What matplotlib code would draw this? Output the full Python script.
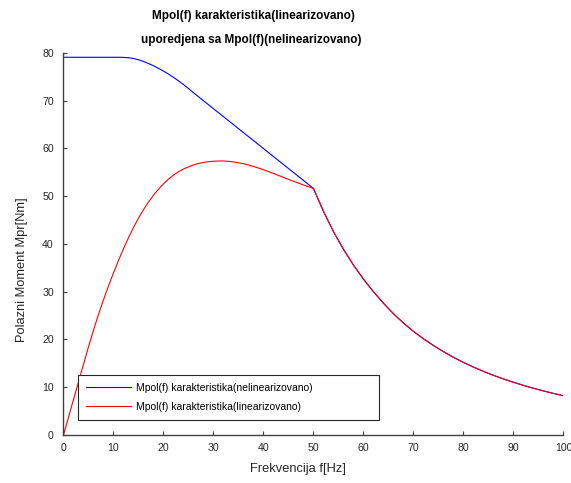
import numpy as np
import matplotlib
matplotlib.use("Agg")
import matplotlib.pyplot as plt

plt.rcParams['font.family'] = ['Liberation Sans', 'DejaVu Sans']

# frekvencija 0..50 Hz, korak 1 Hz
f_low = list(range(0, 51))

# Mpol(f), nelinearizovano (0..50 Hz)
m_nelin = [79.1, 79.1, 79.1, 79.1, 79.1, 79.1, 79.1, 79.1, 79.1, 79.1, 79.1,
           79.1, 79.08, 79.0, 78.85, 78.58, 78.22, 77.8, 77.32, 76.79, 76.21,
           75.58, 74.9, 74.17, 73.39, 72.55, 71.69, 70.84, 70.0, 69.17,
           68.33, 67.5, 66.66, 65.83, 65.0, 64.16, 63.33, 62.49, 61.66, 60.82,
           59.99, 59.15, 58.32, 57.48, 56.65, 55.81, 54.98, 54.14, 53.31,
           52.47, 51.63]

# Mpol(f), linearizovano (0..50 Hz)
m_lin = [0, 3.7, 7.4, 11.1, 14.8, 18.45, 21.95, 25.25, 28.3, 31.2, 33.95,
         36.55, 39.0, 41.3, 43.45, 45.4, 47.18, 48.78, 50.21, 51.48, 52.6,
         53.58, 54.42, 55.12, 55.7, 56.16, 56.56, 56.86, 57.08, 57.23, 57.33,
         57.38, 57.38, 57.31, 57.19, 57.02, 56.8, 56.54, 56.24, 55.91, 55.55,
         55.17, 54.77, 54.36, 53.95, 53.54, 53.14, 52.75, 52.37, 52.0, 51.63]

# zajednicki deo iznad 50 Hz
f_high = list(range(50, 101, 2))
m_high = [51.63, 46.85, 42.6, 38.9, 35.6, 32.65, 30.0, 27.6, 25.4, 23.45,
          21.7, 20.15, 18.75, 17.45, 16.27, 15.2, 14.22, 13.32, 12.5, 11.74,
          11.04, 10.39, 9.79, 9.23, 8.71, 8.22]

x1 = np.array(f_low + f_high[1:])
y1 = np.array(m_nelin + m_high[1:])
x2 = np.array(f_low + f_high[1:])
y2 = np.array(m_lin + m_high[1:])

fig = plt.figure(figsize=(5.71, 4.83), dpi=100)
ax = fig.add_axes([0.1112, 0.0994, 0.8755, 0.7909])

ax.plot(x1, y1, color='#0000ff', lw=0.8, label='Mpol(f) karakteristika(nelinearizovano)')
ax.plot(x2, y2, color='#ff0000', lw=0.8, label='Mpol(f) karakteristika(linearizovano)')

ax.set_xlim(0, 100)
ax.set_ylim(0, 80)
ax.set_xticks(np.arange(0, 101, 10))
ax.set_yticks(np.arange(0, 81, 10))

for s in ['top', 'right']:
    ax.spines[s].set_visible(False)
for s in ['left', 'bottom']:
    ax.spines[s].set_color('#404040')
    ax.spines[s].set_linewidth(1.0)

ax.tick_params(direction='in', length=3, width=0.8, color='#404040',
               labelsize=7.6, labelcolor='#262626')
ax.tick_params(axis='y', pad=7)
ax.tick_params(axis='x', pad=6)

ax.set_xlabel('Frekvencija f[Hz]', fontsize=9.3, color='#262626')
ax.set_ylabel('Polazni Moment Mpr[Nm]', fontsize=9.3, color='#262626')
ax.xaxis.set_label_coords(0.469, -0.074)
ax.yaxis.set_label_coords(-0.071, 0.432)

fig.text(253 / 571, 1 - 16 / 483, 'Mpol(f) karakteristika(linearizovano)',
         ha='center', va='center', fontsize=8.5, fontweight='bold')
fig.text(251 / 571, 1 - 40 / 483, 'uporedjena sa Mpol(f)(nelinearizovano)',
         ha='center', va='center', fontsize=8.5, fontweight='bold')

leg = ax.legend(loc='lower left', bbox_to_anchor=(0.029, 0.039, 0.602, 0.118),
                mode='expand', borderaxespad=0, fontsize=7.5, fancybox=False,
                framealpha=1, edgecolor='#262626', handlelength=4.3,
                handletextpad=0.5, labelspacing=0.85, borderpad=0.8)
leg.get_frame().set_linewidth(0.8)

fig.savefig('out.png', dpi=100)
